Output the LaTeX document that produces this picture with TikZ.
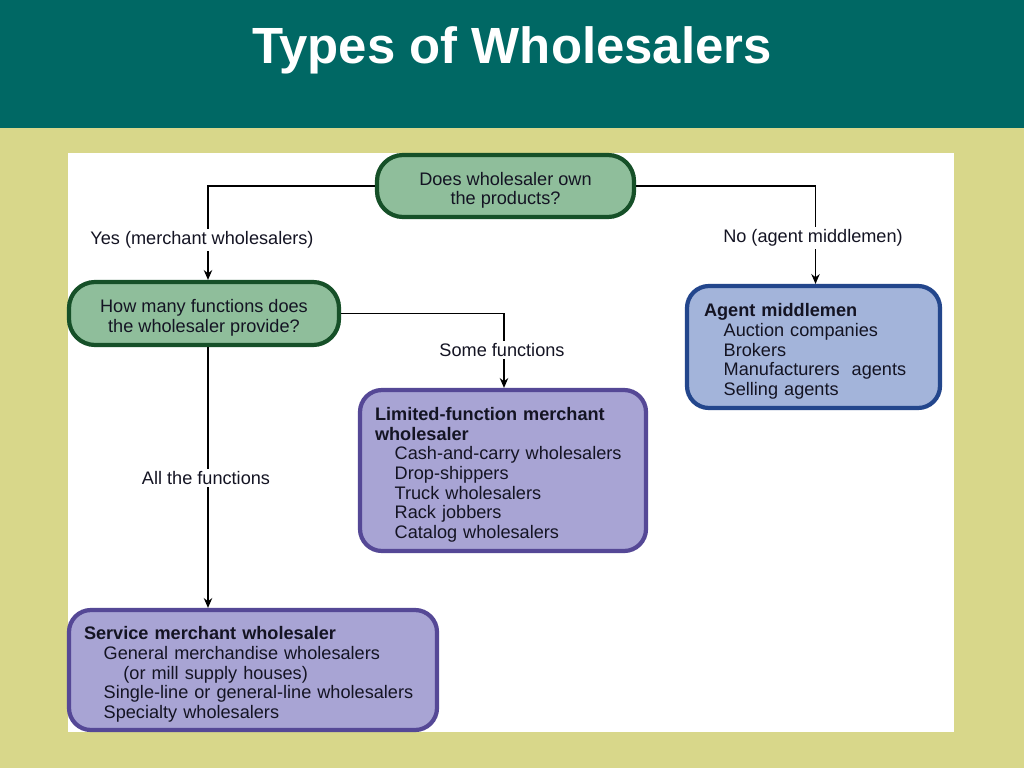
\documentclass[tikz,border=0pt]{standalone}
\usepackage{fontspec}
\setmainfont{Liberation Sans}
\usetikzlibrary{arrows.meta,calc}
\newcommand\pxu{0.025cm}
\definecolor{hdr}{RGB}{0,104,100}
\definecolor{bgk}{RGB}{216,215,138}
\definecolor{gfill}{RGB}{143,190,155}
\definecolor{gline}{RGB}{22,80,40}
\definecolor{bfill}{RGB}{163,180,218}
\definecolor{bline}{RGB}{35,70,140}
\definecolor{pfill}{RGB}{168,164,212}
\definecolor{pline}{RGB}{85,72,150}
\definecolor{txt}{RGB}{20,20,35}
\tikzset{
  base/.style={font=\fontsize{12.9}{13.9}\selectfont, text=txt},
  question/.style={base, draw=gline, fill=gfill, line width=3pt, rounded corners=26*\pxu, align=center, inner sep=0pt},
  bluebox/.style={base, draw=bline, fill=bfill, line width=3pt, rounded corners=22*\pxu, align=left, inner sep=0pt},
  purplebox/.style={base, draw=pline, fill=pfill, line width=3pt, rounded corners=22*\pxu, align=left, inner sep=0pt},
  lbl/.style={base, fill=white, inner sep=2pt},
  arr/.style={line width=0.75pt, -{Stealth[length=7pt,width=6pt]}},
  ln/.style={line width=0.75pt}
}
\newcommand\ind{\hspace*{14pt}}
\newcommand\topstrut{\rule{0pt}{15.5pt}}
\begin{document}
\begin{tikzpicture}[x=0.025cm,y=-0.025cm]
\useasboundingbox (0,0) rectangle (1024,768);
\fill[bgk] (0,0) rectangle (1024,768);
\fill[hdr] (0,0) rectangle (1024,128);
\fill[white] (68,153) rectangle (954,732);
\node[font=\bfseries\fontsize{36.2}{40}\selectfont, text=white] (title) at (512,50) {Types of Wholesalers};

\node[question, minimum width=257*\pxu, minimum height=62*\pxu] (top) at (505.5,186) {\topstrut Does wholesaler own\\the products?};
\node[question, minimum width=270*\pxu, minimum height=63*\pxu] (how) at (204,313.5) {\topstrut How many functions does\\the wholesaler provide?};
\node[bluebox, minimum width=253*\pxu, minimum height=122*\pxu, text width=219*\pxu] (agent) at (813.5,347)
 {\topstrut\textbf{Agent middlemen}\\ \ind Auction companies\\ \ind Brokers\\ \ind Manufacturers\ \ agents\\ \ind Selling agents};
\node[purplebox, minimum width=286*\pxu, minimum height=161*\pxu, text width=256*\pxu] (lim) at (503,470.5)
 {\topstrut\textbf{Limited-function merchant}\\ \textbf{wholesaler}\\ \ind Cash-and-carry wholesalers\\ \ind Drop-shippers\\ \ind Truck wholesalers\\ \ind Rack jobbers\\ \ind Catalog wholesalers};
\node[purplebox, minimum width=368*\pxu, minimum height=120*\pxu, text width=338*\pxu] (serv) at (253,670)
 {\topstrut\textbf{Service merchant wholesaler}\\ \ind General merchandise wholesalers\\ \ind\ind (or mill supply houses)\\ \ind Single-line or general-line wholesalers\\ \ind Specialty wholesalers};

\draw[arr] (top.west) -| ([xshift=4*\pxu]how.north);
\draw[arr] (top.east) -| ([xshift=2*\pxu]agent.north);
\draw[arr] (how.east) -| ([xshift=1*\pxu]lim.north);
\draw[arr] ([xshift=4*\pxu]how.south) -- ([xshift=4*\pxu]how.south |- serv.north);

\node[lbl] (yes) at (202,240) {Yes (merchant wholesalers)};
\node[lbl] (no) at (813,238) {No (agent middlemen)};
\node[lbl] (some) at (502,350) {Some functions};
\node[lbl] (all) at (206,478) {All the functions};
\end{tikzpicture}
\end{document}
